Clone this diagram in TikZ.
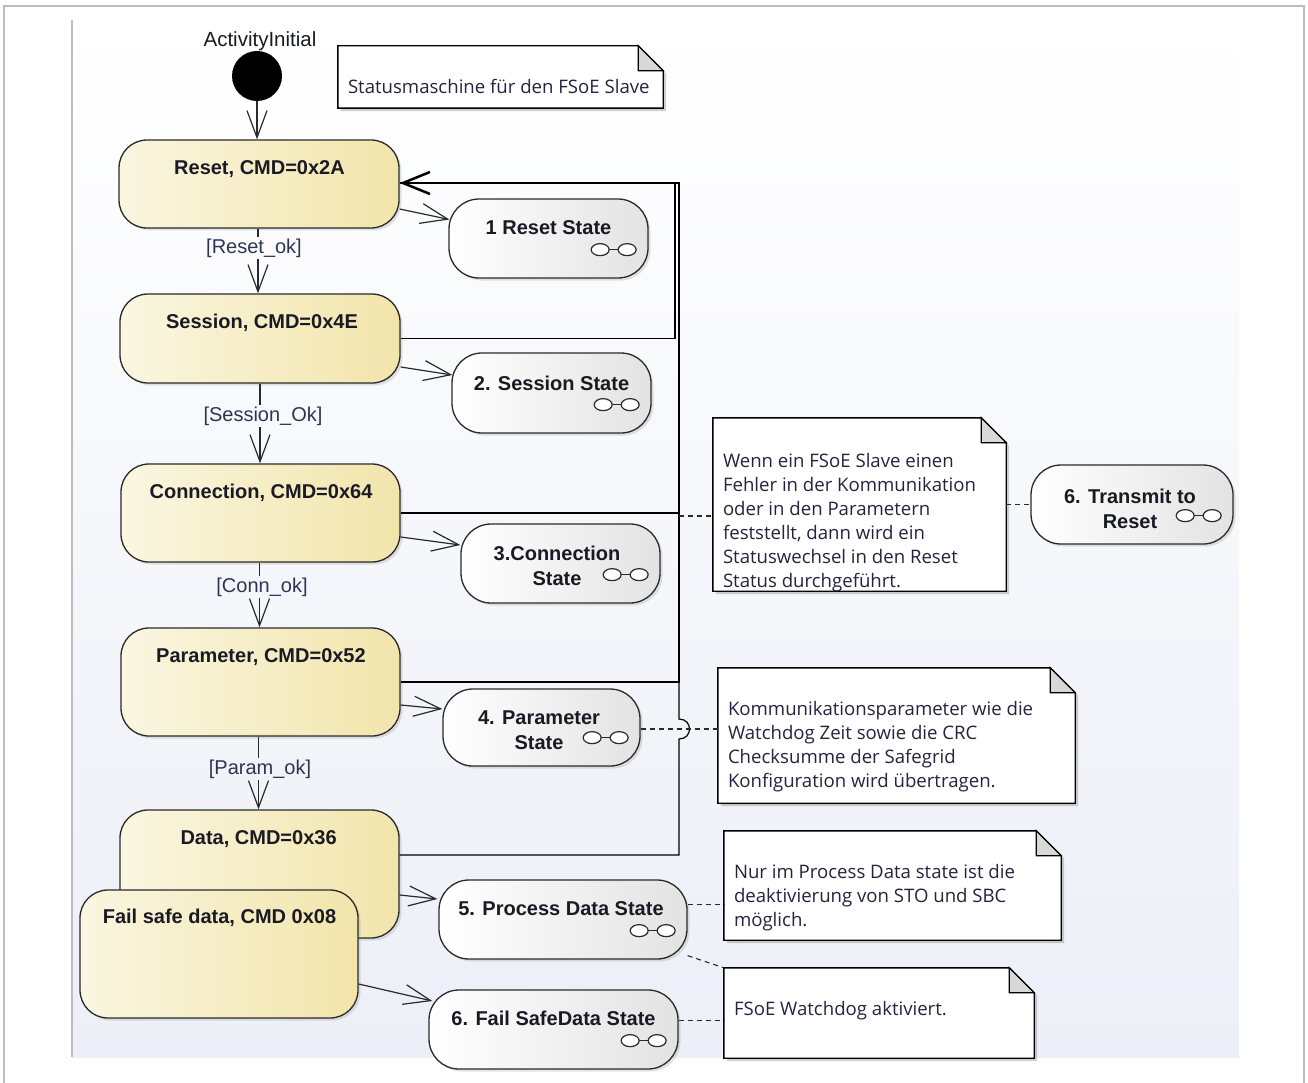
\documentclass[tikz,border=0pt]{standalone}
\usepackage{fontspec}
\setmainfont{Liberation Sans}
\newfontfamily\notefont{Open Sans}
\usetikzlibrary{arrows.meta,calc,shadows}
\definecolor{yelL}{HTML}{FAF6E1}
\definecolor{yelR}{HTML}{F2E5AB}
\definecolor{stR}{HTML}{E3E3E3}
\definecolor{bgB}{HTML}{ECEFF7}
\definecolor{framec}{HTML}{BDBDBD}
\definecolor{boxline}{HTML}{2A2A2A}
\definecolor{txt}{HTML}{1A1A24}
\definecolor{notetxtc}{HTML}{24243E}
\definecolor{guardc}{HTML}{2E3550}
\definecolor{foldc}{HTML}{D8D8D8}
\pgfdeclarelayer{bg}
\pgfdeclarelayer{notes}
\pgfsetlayers{bg,notes,main}
\newcommand{\notepath}[1]{(#1.north west) -- ($(#1.north east)+(-25,0)$) -- ($(#1.north east)+(0,25)$) -- (#1.south east) -- (#1.south west) -- cycle}
\newcommand{\drawnote}[1]{%
  \fill[black, opacity=0.18] ($(#1.north west)+(3,3)$) -- ($(#1.north east)+(-22,3)$) -- ($(#1.north east)+(3,28)$) -- ($(#1.south east)+(3,3)$) -- ($(#1.south west)+(3,3)$) -- cycle;
  \draw[line width=1.4pt, draw=black, fill=white] \notepath{#1};
  \draw[line width=1.2pt, draw=black, fill=foldc] ($(#1.north east)+(-25,0)$) -- ($(#1.north east)+(-25,25)$) -- ($(#1.north east)+(0,25)$) -- cycle;}
\begin{document}
\begin{tikzpicture}[x=1pt,y=-1pt,
  ystate/.style={draw=boxline, line width=1.3pt, rounded corners=28pt, left color=yelL, right color=yelR, inner sep=0pt,
    drop shadow={opacity=0.22, shadow xshift=2.5pt, shadow yshift=-2.5pt}},
  wstate/.style={draw=boxline, line width=1.3pt, rounded corners=30pt, left color=white, right color=stR, inner sep=0pt,
    drop shadow={opacity=0.22, shadow xshift=2.5pt, shadow yshift=-2.5pt}},
  title/.style={font=\fontsize{20}{24}\selectfont\bfseries, text=txt, inner sep=0pt},
  sttext/.style={font=\fontsize{20}{25}\selectfont\bfseries, text=txt, align=center, inner sep=0pt},
  guard/.style={font=\fontsize{20}{24}\selectfont, text=guardc, inner sep=1.5pt},
  lbl/.style={font=\fontsize{20.5}{24}\selectfont, text=txt, inner sep=0pt},
  notegeo/.style={draw=none, fill=none, inner sep=0pt},
  notetxt/.style={font=\notefont\fontsize{18.6}{24}\selectfont, text=notetxtc, align=left, inner sep=0pt, anchor=north west},
  flow/.style={draw=boxline, line width=1.2pt, -{Straight Barb[length=27pt,width=20pt]}},
  ret/.style={draw=black, line width=1.2pt},
  retthick/.style={draw=black, line width=2.5pt, -{Straight Barb[length=27pt,width=22pt]}},
  notelink/.style={draw=boxline, line width=1.1pt, dash pattern=on 5pt off 4pt},
  glasses/.pic={
    \draw[line width=1.2pt, draw=boxline] (-6,0) -- (6,0);
    \draw[line width=1.2pt, draw=boxline, fill=white] (-13.5,0) ellipse [x radius=9pt, y radius=6pt];
    \draw[line width=1.2pt, draw=boxline, fill=white] (13.5,0) ellipse [x radius=9pt, y radius=6pt];
  }]
\useasboundingbox (0,0) rectangle (1308,1083);
\begin{pgfonlayer}{bg}
  \fill[white] (0,0) rectangle (1308,1083);
  \shade[top color=white, bottom color=bgB] (72,20) rectangle (1239,1057);
  \draw[framec, line width=1.5pt] (4,1083) -- (4,6) -- (1304,6) -- (1304,1083);
  \draw[framec, line width=1.2pt] (72,20) -- (72,1057);
\end{pgfonlayer}

% initial
\node[lbl] (initlbl) at (260,41) {ActivityInitial};
\node[circle, fill=black, minimum size=50pt, inner sep=0pt] (init) at (257,76) {};

% note 0
\node[notegeo, minimum width=325pt, minimum height=62pt] (note0) at (500.5,77) {};
\node[notetxt] (t0) at ($(note0.north west)+(10,33)$) {Statusmaschine für den FSoE Slave};

% yellow states
\node[ystate, minimum width=280pt, minimum height=88pt] (reset) at (259,184) {};
\node[title] (tReset) at (259.5,169) {Reset, CMD=0x2A};
\node[ystate, minimum width=280pt, minimum height=89pt] (session) at (260,338.5) {};
\node[title] (tSession) at (262,323) {Session, CMD=0x4E};
\node[ystate, minimum width=279pt, minimum height=98pt] (conn) at (260.5,513) {};
\node[title] (tConn) at (261,493) {Connection, CMD=0x64};
\node[ystate, minimum width=279pt, minimum height=108pt] (param) at (260.5,682) {};
\node[title] (tParam) at (261,657) {Parameter, CMD=0x52};
\node[ystate, minimum width=279pt, minimum height=128pt] (data) at (259.5,874) {};
\node[title] (tData) at (258.6,839) {Data, CMD=0x36};
\node[ystate, minimum width=278pt, minimum height=128pt] (fail) at (219,954) {};
\node[title] (tFail) at (219.5,918) {Fail safe data, CMD 0x08};

% white states
\node[wstate, minimum width=199pt, minimum height=79pt] (rs1) at (548.5,238.5) {};
\node[sttext] (trs1) at (548.5,228) {1 Reset State};
\node[wstate, minimum width=199pt, minimum height=80pt] (ss2) at (551.5,393) {};
\node[sttext] (tss2) at (551.5,383) {2. Session State};
\node[wstate, minimum width=199pt, minimum height=79pt] (cs3) at (560.5,563.5) {};
\node[sttext] (tcs3) at (557,565.5) {3.Connection\\State};
\node[wstate, minimum width=197pt, minimum height=77pt] (ps4) at (541.5,727.5) {};
\node[sttext] (tps4) at (539,730) {4. Parameter\\State};
\node[wstate, minimum width=248pt, minimum height=79pt] (pd5) at (563,919.5) {};
\node[sttext] (tpd5) at (561,909) {5. Process Data State};
\node[wstate, minimum width=249pt, minimum height=79pt] (fs6) at (553.5,1029.5) {};
\node[sttext] (tfs6) at (553.5,1018) {6. Fail SafeData State};
\node[wstate, minimum width=202pt, minimum height=79pt] (tr6) at (1132,504.5) {};
\node[sttext] (ttr6) at (1130,508.5) {6. Transmit to\\Reset};

\foreach \s in {rs1,ss2,cs3,ps4,pd5,fs6,tr6}{
  \pic at ($(\s.south east)+(-35,-29)$) {glasses};
}

% notes
\node[notegeo, minimum width=293pt, minimum height=173pt] (note1) at (859.5,504.5) {};
\node[notetxt] (t1) at ($(note1.north west)+(10,35)$) {Wenn ein FSoE Slave einen\\Fehler in der Kommunikation\\oder in den Parametern\\feststellt, dann wird ein\\Statuswechsel in den Reset\\Status durchgeführt.};
\node[notegeo, minimum width=357pt, minimum height=135pt] (note2) at (896.5,735.5) {};
\node[notetxt] (t2) at ($(note2.north west)+(10,33)$) {Kommunikationsparameter wie die\\Watchdog Zeit sowie die CRC\\Checksumme der Safegrid\\Konfiguration wird übertragen.};
\node[notegeo, minimum width=337pt, minimum height=109pt] (note3) at (892.5,885.5) {};
\node[notetxt] (t3) at ($(note3.north west)+(10,33)$) {Nur im Process Data state ist die\\deaktivierung von STO und SBC\\möglich.};
\node[notegeo, minimum width=310pt, minimum height=90pt] (note4) at (879,1013) {};
\node[notetxt] (t4) at ($(note4.north west)+(10,33)$) {FSoE Watchdog aktiviert.};

\begin{pgfonlayer}{notes}
  \drawnote{note0}
  \drawnote{note1}
  \drawnote{note2}
  \drawnote{note3}
  \drawnote{note4}
\end{pgfonlayer}

% vertical flow
\draw[flow] (init.south) -- (init.south |- reset.north);
\draw[flow] ($(reset.south)+(-1,0)$) -- ($(reset.south |- session.north)+(-1,0)$);
\draw[flow] (session.south) -- (session.south |- conn.north);
\draw[flow] ($(conn.south)+(-1,0)$) -- ($(conn.south |- param.north)+(-1,0)$);
\draw[flow] ($(param.south)+(-2,0)$) -- ($(param.south |- data.north)+(-2,0)$);

\node[guard, fill=bgB!22!white] (g1) at (254,248) {[Reset\_ok]};
\node[guard, fill=bgB!38!white] (g2) at (263,416) {[Session\_Ok]};
\node[guard, fill=bgB!55!white] (g3) at (262,587) {[Conn\_ok]};
\node[guard, fill=bgB!72!white] (g4) at (260,769) {[Param\_ok]};

% to sub states
\draw[flow] ($(reset.east)+(0,25)$) -- ($(rs1.west)+(1,-19)$);
\draw[flow] ($(session.east)+(0,28.5)$) -- ($(ss2.west)+(1,-18)$);
\draw[flow] ($(conn.east)+(0,24)$) -- ($(cs3.west)+(0,-18.5)$);
\draw[flow] ($(param.east)+(0,23)$) -- ($(ps4.west)+(0,-18.5)$);
\draw[flow] ($(data.east)+(0,21)$) -- ($(pd5.west)+(-1,-20.5)$);
\draw[flow] ($(fail.east)+(0,30)$) -- ($(fs6.west)+(4,-28.5)$);

% return lines
\coordinate (busS) at (675,183);
\coordinate (bus) at (679,183);
\draw[ret] (session.east) -| (busS) -- (reset.east |- busS);
\draw[ret] (conn.east) -| (bus);
\draw[ret] (param.east) -| (bus);
\draw[ret] ($(data.east)+(0,-19)$) -- ($(bus |- data.east)+(0,-19)$) -- ($(bus |- ps4.east)+(0,11.5)$) .. controls +(14,0) and +(14,0) .. ($(bus |- ps4.east)+(0,-8.5)$) -- (bus |- param.east);
\draw[retthick] (bus |- conn.east) -- (bus) -- (reset.east |- bus);

% note links
\draw[notelink] ($(bus |- conn.east)+(0,3)$) -- ($(note1.west |- conn.east)+(0,3)$);
\draw[notelink] (note1.east) -- (tr6.west);
\draw[notelink] ($(ps4.east)+(0,1.5)$) -- ($(ps4.east -| note2.west)+(0,1.5)$);
\draw[notelink] ($(pd5.east)+(0,-15)$) -- ($(pd5.east -| note3.west)+(0,-15)$);
\draw[notelink] ($(pd5.south east)+(0,-4)$) -- (note4.north west);
\draw[notelink] ($(fs6.east)+(0,-9)$) -- ($(fs6.east -| note4.west)+(0,-9)$);
\end{tikzpicture}
\end{document}
